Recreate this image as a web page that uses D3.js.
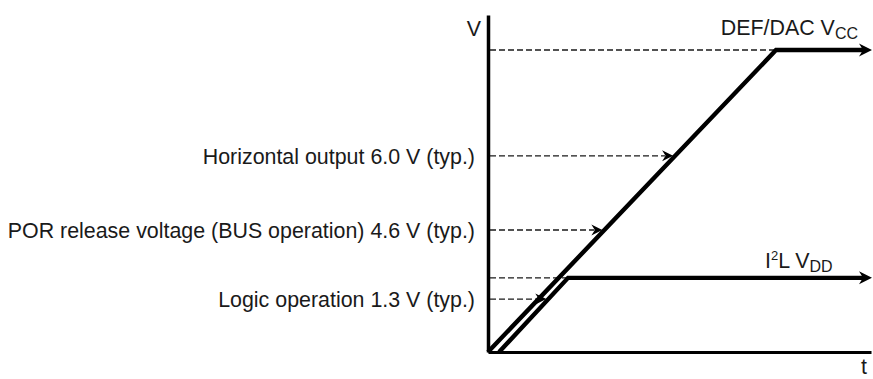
<!DOCTYPE html>
<html>
<head>
<meta charset="utf-8">
<script src="https://cdn.jsdelivr.net/npm/d3@7"></script>
<style>
  html, body { margin: 0; padding: 0; background: #fff; }
  svg { display: block; }
  text { font-family: "Liberation Sans", Arial, Helvetica, sans-serif; fill: #1a1a1a; }
</style>
</head>
<body>
<svg id="chart" width="873" height="379"></svg>
<script>
// schematic units: time 0..100 across the t axis, voltage 0..100 up the V axis
const vccPoints = [[0, 0], [75.2, 89.6], [100, 89.6]];
const i2lPoints = [[2.9, 0], [20.9, 22.0], [100, 22.0]];

const markLabels = [
  'Horizontal output 6.0 V (typ.)',
  'POR release voltage (BUS operation) 4.6 V (typ.)',
  'Logic operation 1.3 V (typ.)'
];
const markLevels = [58.2, 36.2, 15.7];
const markTargets = ['vcc', 'vcc', 'i2l'];

const FONT = 21.4;
const ORIGIN = {x: 488, y: 352};

const x = d3.scaleLinear().domain([0, 100]).range([ORIGIN.x, 871]);
const y = d3.scaleLinear().domain([0, 100]).range([ORIGIN.y, 15]);

const svg = d3.select('#chart');

// x on the rising part of a supply line at voltage v
function rampX(points, v) {
  const [p0, p1] = points;
  return p0[0] + (v - p0[1]) * (p1[0] - p0[0]) / (p1[1] - p0[1]);
}

const lines = {vcc: vccPoints, i2l: i2lPoints};

// axes (no ticks, just the domain line)
svg.append('g')
  .attr('transform', `translate(0, ${y(0)})`)
  .call(d3.axisBottom(x).tickValues([]).tickSizeOuter(0))
  .call(g => g.select('.domain').attr('stroke', '#000').attr('stroke-width', 3));

svg.append('g')
  .attr('transform', `translate(${x(0)}, 0)`)
  .call(d3.axisLeft(y).tickValues([]).tickSizeOuter(0))
  .call(g => g.select('.domain').attr('stroke', '#000').attr('stroke-width', 3.5));

const dashed = svg.append('g')
  .attr('stroke', '#1a1a1a')
  .attr('stroke-width', 1.4)
  .attr('stroke-dasharray', '6,3')
  .attr('fill', 'none');

// dashed guide to each supply's settling corner
[vccPoints, i2lPoints].forEach(pts => {
  const c = pts[1];
  dashed.append('line')
    .attr('x1', x(0) + 2).attr('x2', x(c[0]))
    .attr('y1', y(c[1])).attr('y2', y(c[1]));
});

// small barbed arrowhead pointing right, tip at (tx, ty)
function arrowHead(tx, ty, len, half, notch) {
  return `M${tx},${ty} L${tx - len},${ty - half} L${tx - len + notch},${ty} L${tx - len},${ty + half} Z`;
}

// threshold marks with arrows onto the ramps
markLevels.forEach((v, i) => {
  const tipX = x(rampX(lines[markTargets[i]], v)) - 2;
  const yy = y(v);
  dashed.append('line')
    .attr('x1', x(0) + 2).attr('x2', tipX - 8)
    .attr('y1', yy).attr('y2', yy);
  svg.append('path')
    .attr('d', arrowHead(tipX, yy, 11, 5.5, 3.5))
    .attr('fill', '#000');
  svg.append('text')
    .attr('x', x(0) - 13)
    .attr('y', yy)
    .attr('dy', '0.36em')
    .attr('text-anchor', 'end')
    .attr('font-size', FONT)
    .text(markLabels[i]);
});

// supply lines
const line = d3.line().x(d => x(d[0])).y(d => y(d[1]));

[vccPoints, i2lPoints].forEach(pts => {
  const last = pts[pts.length - 1];
  const trimmed = pts.slice(0, -1).concat([[x.invert(x(last[0]) - 7), last[1]]]);
  svg.append('path')
    .attr('d', line(trimmed))
    .attr('fill', 'none')
    .attr('stroke', '#000')
    .attr('stroke-width', 4.4)
    .attr('stroke-linejoin', 'miter');
  svg.append('path')
    .attr('d', arrowHead(x(last[0]) + 1, y(last[1]), 13, 6.5, 4))
    .attr('fill', '#000');
});

// axis letters
svg.append('text')
  .attr('x', x(0) - 7).attr('y', 36)
  .attr('text-anchor', 'end')
  .attr('font-size', FONT)
  .text('V');

svg.append('text')
  .attr('x', 861).attr('y', 374)
  .attr('font-size', FONT)
  .text('t');

// supply names
const vccLabel = svg.append('text')
  .attr('x', 858).attr('y', y(vccPoints[2][1]) - 15)
  .attr('text-anchor', 'end')
  .attr('font-size', FONT);
vccLabel.append('tspan').text('DEF/DAC V');
vccLabel.append('tspan').attr('font-size', 16).attr('dy', 4).text('CC');

const i2lLabel = svg.append('text')
  .attr('x', 765).attr('y', y(i2lPoints[2][1]) - 10)
  .attr('font-size', FONT);
i2lLabel.append('tspan').text('I');
i2lLabel.append('tspan').attr('font-size', 13).attr('dy', -8).text('2');
i2lLabel.append('tspan').attr('dy', 8).text('L V');
i2lLabel.append('tspan').attr('font-size', 16).attr('dy', 4).text('DD');
</script>
</body>
</html>
